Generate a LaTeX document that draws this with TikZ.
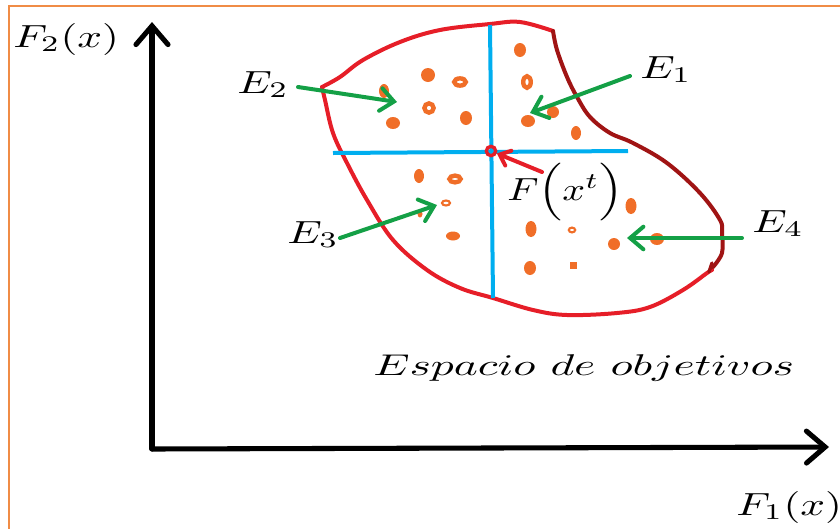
\documentclass[tikz,border=0pt]{standalone}
\usepackage{graphicx}
\usetikzlibrary{arrows.meta}
\definecolor{frameor}{RGB}{240,140,70}
\definecolor{blobred}{RGB}{230,30,40}
\definecolor{darkred}{RGB}{160,20,20}
\definecolor{blu}{RGB}{0,174,239}
\definecolor{dotor}{RGB}{240,110,40}
\definecolor{grn}{RGB}{20,160,70}
\newcommand\mylbl[3]{\scalebox{#1}[#2]{$#3$}}
\tikzset{
  axisline/.style={line width=3.8pt, line cap=round, -{Straight Barb[length=14pt,width=24pt,line cap=round]}},
  garrow/.style={grn, line width=3pt, line cap=round, -{Straight Barb[length=10pt,width=17pt,line cap=round]}},
  rarrow/.style={blobred, line width=3pt, line cap=round, -{Straight Barb[length=7pt,width=12pt,line cap=round]}},
  blobline/.style={line width=3pt, line cap=round, line join=round},
  bluline/.style={blu, line width=3pt},
  lbl/.style={inner sep=0pt, anchor=base west},
  dotf/.style={fill=dotor},
  ring/.style={draw=dotor, line width=3.3pt},
}
\begin{document}
\begin{tikzpicture}[x=0.75pt,y=-0.75pt]
\useasboundingbox (0,0) rectangle (840,529);
% frame
\draw[frameor, line width=1.5pt] (9,529) -- (9,6) -- (840,6);
% axes
\coordinate (o) at (152,449);
\coordinate (ytip) at (152,22);
\coordinate (xtip) at (829,447);
\draw[axisline] (o) -- (ytip);
\draw[axisline] (o) -- (xtip);
% blob
\draw[blobred, blobline] plot[smooth, tension=0.6] coordinates {(712,270) (707,273) (683,290) (650,307) (617,313) (567,315) (533,310) (493,298) (460,288) (427,270) (393,240) (367,200) (347,163) (333,133) (325,100) (322,87)};
\draw[blobred, blobline] plot[smooth, tension=0.6] coordinates {(322,87) (340,77) (363,60) (400,42) (440,30) (490,24) (520,22) (553,31)};
\draw[darkred, blobline] plot[smooth, tension=0.6] coordinates {(553,31) (557,50) (567,77) (577,97) (590,117) (610,133) (633,143) (667,163) (700,193) (720,220) (722,233) (722,253) (713,267)};
\draw[darkred, line width=2.5pt, line cap=round] (712,263) -- (709,272);
% blue quadrant lines
\coordinate (vt) at (490,25);
\coordinate (vb) at (493,298);
\coordinate (hl) at (333,153);
\coordinate (hr) at (628,151);
\draw[bluline] (vt) -- (vb);
\draw[bluline] (hl) -- (hr);
% dots
\foreach \x/\y/\rx/\ry in {520/50/6/7, 553/112/6/6, 528/121/7/6, 576/133/5/7, 428/75/7/7, 466/118/6/7, 393/123/7/6, 384/91/5/7, 419/176/5/7, 453/236/7/4.5, 631/206/5.5/8, 531/229/5.5/8, 614/244/6/6, 657/239/7/6, 530/268/6/7, 420/214/2.5/3.5}
  \fill[dotf] (\x,\y) ellipse [x radius=\rx, y radius=\ry];
\fill[dotf] (570,262) rectangle (577,269);
\foreach \x/\y/\rx/\ry in {527/82/3.8/5.8, 460/82/5.8/3.6, 429/108/4.6/4.6, 455/179/5.6/3.4}
  \draw[ring] (\x,\y) ellipse [x radius=\rx, y radius=\ry];
\foreach \x/\y/\rx/\ry in {446/203/4/2.5, 572/230/3.2/2.4}
  \draw[dotor, line width=1.6pt] (\x,\y) ellipse [x radius=\rx, y radius=\ry];
% F(x^t) point
\node[circle, draw=blobred, line width=2.5pt, minimum size=7pt, inner sep=0pt] (ft) at (491,151) {};
% labels
\node[lbl] (f2) at (13,47) {\mylbl{3.25}{2.4}{F_2(x)}};
\node[lbl] (f1) at (736,515) {\mylbl{3.25}{2.4}{F_1(x)}};
\node[lbl] (e1) at (640,78) {\mylbl{3.25}{2.4}{E_1}};
\node[lbl] (e2) at (237,93) {\mylbl{3.25}{2.4}{E_2}};
\node[lbl] (e3) at (287,243) {\mylbl{3.25}{2.4}{E_3}};
\node[lbl] (e4) at (752,232) {\mylbl{3.25}{2.4}{E_4}};
\node[lbl] (fxt) at (507,200) {\mylbl{3.0}{2.4}{F\Big(x^t\Big)}};
\node[lbl] (esp) at (373,375) {\mylbl{3.42}{2.25}{Espacio\ de\ objetivos}};
% arrows
\coordinate (e2s) at (298,87);  \coordinate (e2t) at (397,102);
\coordinate (e1s) at (630,76);  \coordinate (e1t) at (530,113);
\coordinate (e3s) at (340,238); \coordinate (e3t) at (437,205);
\coordinate (e4s) at (742,238); \coordinate (e4t) at (627,238);
\coordinate (fs) at (542,172);
\draw[garrow] (e2s) -- (e2t);
\draw[garrow] (e1s) -- (e1t);
\draw[garrow] (e3s) -- (e3t);
\draw[garrow] (e4s) -- (e4t);
\draw[rarrow] (fs) -- (ft);
\end{tikzpicture}
\end{document}
